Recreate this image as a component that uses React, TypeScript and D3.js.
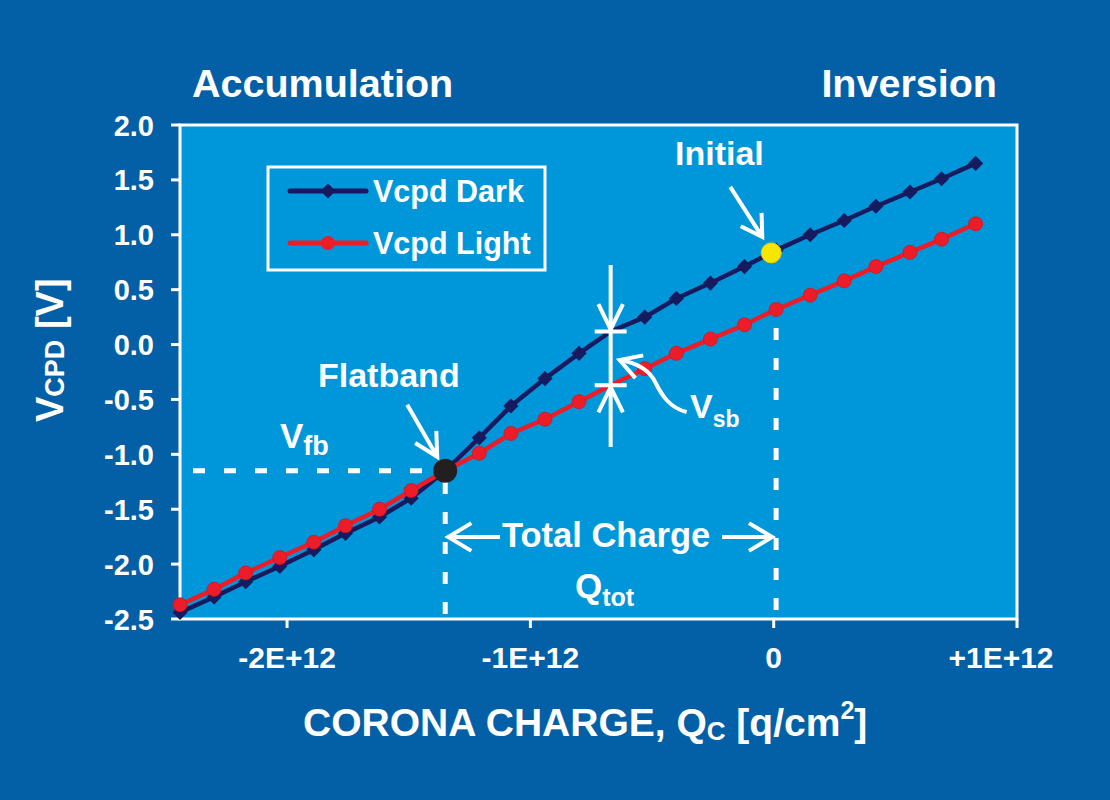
import * as d3 from "d3";

// Corona charge in units of 1E+12 q/cm2
const charge = [
  -2.44, -2.3, -2.17, -2.03, -1.89, -1.76, -1.62, -1.49, -1.35, -1.21, -1.08, -0.94, -0.8,
  -0.67, -0.53, -0.4, -0.26, -0.12, 0.01, 0.15, 0.29, 0.42, 0.56, 0.69, 0.83,
];
const vcpdDark = [
  -2.44, -2.3, -2.16, -2.02, -1.87, -1.72, -1.57, -1.4, -1.15, -0.85, -0.56, -0.31, -0.08,
  0.12, 0.25, 0.42, 0.56, 0.71, 0.86, 1.0, 1.13, 1.26, 1.39, 1.51, 1.65,
];
const vcpdLight = [
  -2.37, -2.23, -2.08, -1.94, -1.8, -1.65, -1.5, -1.33, -1.15, -0.99, -0.81, -0.68, -0.52,
  -0.37, -0.22, -0.08, 0.05, 0.18, 0.32, 0.45, 0.58, 0.71, 0.84, 0.96, 1.1,
];
const yTicks = [2.0, 1.5, 1.0, 0.5, 0.0, -0.5, -1.0, -1.5, -2.0, -2.5];
const xTicks = [-2, -1, 0, 1];
const xTickLabels = ["-2E+12", "-1E+12", "0", "+1E+12"];

const flatbandIndex = 8; // Vfb point
const vsbIndex = 13; // surface barrier marker, markers hidden under annotation
const totalIndex = 18; // Qtot end
const initialPoint = { q: -0.01, v: 0.835 };

const W = 1110;
const H = 800;
const plot = { left: 180, right: 1017, top: 125, bottom: 619 };

const bgOuter = "#0360A6";
const bgPlot = "#0097DA";
const darkColor = "#151B5E";
const lightColor = "#EC1C28";
const font = "'Liberation Sans', Arial, Helvetica, sans-serif";

// arrow head (two arms) at tip, opening back toward "from"
function arrowHead(tip: number[], from: number[], len = 24, ang = 31) {
  const dx = from[0] - tip[0];
  const dy = from[1] - tip[1];
  const L = Math.hypot(dx, dy);
  const ux = dx / L;
  const uy = dy / L;
  const arm = (s: number) => {
    const a = (s * ang * Math.PI) / 180;
    return [
      tip[0] + len * (ux * Math.cos(a) - uy * Math.sin(a)),
      tip[1] + len * (ux * Math.sin(a) + uy * Math.cos(a)),
    ];
  };
  const p1 = arm(1);
  const p2 = arm(-1);
  return `M${p1[0]},${p1[1]}L${tip[0]},${tip[1]}L${p2[0]},${p2[1]}`;
}

export default function App() {
  const x = d3.scaleLinear().domain([-2.44, 1.0]).range([plot.left, plot.right]);
  const y = d3.scaleLinear().domain([-2.5, 2.0]).range([plot.bottom, plot.top]);

  const line = d3
    .line<number>()
    .x((_, i) => x(charge[i]))
    .y((d) => y(d));

  const diamond = d3.symbol(d3.symbolSquare, 115)();

  const fbX = x(charge[flatbandIndex]);
  const fbY = y(vcpdDark[flatbandIndex]);
  const vsbX = x(charge[vsbIndex]);
  const vsbTop = y(vcpdDark[vsbIndex]);
  const vsbBot = y(vcpdLight[vsbIndex]);
  const totX = x(charge[totalIndex]);
  const initX = x(initialPoint.q);
  const initY = y(initialPoint.v);

  const white = "#FFFFFF";
  const textStyle = { fontFamily: font, fontWeight: 700, fill: white } as const;

  // arrows
  const initFrom = [initX - 41, initY - 66];
  const initTip = [initX - 9, initY - 16];
  const fbFrom = [fbX - 38, fbY - 66];
  const fbTip = [fbX - 8, fbY - 14];
  const tcY = 537;
  const tcLeftTip = [fbX + 3, tcY];
  const tcRightTip = [totX - 4, tcY];
  const vsbCurveTip = [vsbX + 9, 360];

  return (
    <svg
      width={W}
      height={H}
      style={{ position: "absolute", left: 0, top: 0, display: "block" }}
    >
      <rect x={0} y={0} width={W} height={H} fill={bgOuter} />
      <rect
        x={plot.left}
        y={plot.top}
        width={plot.right - plot.left}
        height={plot.bottom - plot.top}
        fill={bgPlot}
        stroke={white}
        strokeWidth={3}
      />

      {/* y ticks */}
      {yTicks.map((t) => (
        <g key={"y" + t}>
          <line x1={plot.left - 9} x2={plot.left} y1={y(t)} y2={y(t)} stroke={white} strokeWidth={3} />
          <text x={154} y={y(t) + 10.5} textAnchor="end" fontSize={29} {...textStyle}>
            {t.toFixed(1)}
          </text>
        </g>
      ))}

      {/* x ticks */}
      {xTicks.map((t, i) => (
        <g key={"x" + t}>
          <line x1={x(t)} x2={x(t)} y1={plot.bottom} y2={plot.bottom + 9} stroke={white} strokeWidth={3} />
          <text
            x={Math.min(x(t), 1001)}
            y={668}
            textAnchor="middle"
            fontSize={30}
            {...textStyle}
          >
            {xTickLabels[i]}
          </text>
        </g>
      ))}

      {/* axis titles */}
      <text x={303} y={736} fontSize={39} {...textStyle}>
        CORONA CHARGE, Q
        <tspan fontSize={26} dy={4}>C</tspan>
        <tspan dy={-4}> [q/cm</tspan>
        <tspan fontSize={25} dy={-17}>2</tspan>
        <tspan dy={17}>]</tspan>
      </text>
      <text transform="translate(63,422) rotate(-90)" fontSize={38} {...textStyle}>
        V<tspan fontSize={27} dy={1}>CPD</tspan>
        <tspan dy={-1}> [V]</tspan>
      </text>

      <text x={192} y={97} fontSize={39.5} {...textStyle}>
        Accumulation
      </text>
      <text x={997} y={97} textAnchor="end" fontSize={39.5} {...textStyle}>
        Inversion
      </text>

      {/* dashed guides */}
      <line x1={193} x2={fbX - 22} y1={fbY} y2={fbY} stroke={white} strokeWidth={5} strokeDasharray="12 19" />
      <line x1={fbX} x2={fbX} y1={482} y2={plot.bottom} stroke={white} strokeWidth={5} strokeDasharray="12 18" />
      <line x1={totX} x2={totX} y1={328} y2={plot.bottom} stroke={white} strokeWidth={5} strokeDasharray="12 18" />

      {/* series */}
      <path d={line(vcpdDark) || ""} fill="none" stroke={darkColor} strokeWidth={4.5} />
      {vcpdDark.map((v, i) =>
        i === vsbIndex ? null : (
          <path
            key={"d" + i}
            d={diamond || ""}
            transform={`translate(${x(charge[i])},${y(v)}) rotate(45)`}
            fill={darkColor}
          />
        )
      )}
      <path d={line(vcpdLight) || ""} fill="none" stroke={lightColor} strokeWidth={4.5} />
      {vcpdLight.map((v, i) =>
        i === vsbIndex ? null : (
          <circle
            key={"l" + i}
            cx={x(charge[i])}
            cy={y(v)}
            r={7}
            fill={lightColor}
            stroke="#D41420"
            strokeWidth={0.8}
          />
        )
      )}

      {/* special points */}
      <circle cx={fbX} cy={fbY} r={12} fill="#231F20" />
      <circle cx={initX} cy={initY} r={10} fill="#F7E600" stroke="#E3CF00" strokeWidth={1} />

      {/* Vsb annotation */}
      <g stroke={white} strokeWidth={4} fill="none">
        <line x1={vsbX} x2={vsbX} y1={265} y2={447} />
        <line x1={vsbX - 16} x2={vsbX + 16} y1={vsbTop} y2={vsbTop} />
        <line x1={vsbX - 16} x2={vsbX + 16} y1={vsbBot} y2={vsbBot} />
        <path d={arrowHead([vsbX, vsbTop - 2], [vsbX, vsbTop - 40], 28, 26)} />
        <path d={arrowHead([vsbX, vsbBot + 2], [vsbX, vsbBot + 40], 28, 26)} />
        <path
          d={`M${vsbX + 76},412 C${vsbX + 59},408 ${vsbX + 51},395 ${vsbX + 45},383 C${vsbX + 39},370 ${vsbX + 27},363 ${vsbCurveTip[0]},${vsbCurveTip[1]}`}
        />
        <path d={arrowHead(vsbCurveTip, [vsbCurveTip[0] + 19, vsbCurveTip[1] + 6.5], 24, 30)} />

        {/* Initial arrow */}
        <line x1={initFrom[0]} y1={initFrom[1]} x2={initTip[0]} y2={initTip[1]} />
        <path d={arrowHead(initTip, initFrom, 24, 31)} />

        {/* Flatband arrow */}
        <line x1={fbFrom[0]} y1={fbFrom[1]} x2={fbTip[0]} y2={fbTip[1]} />
        <path d={arrowHead(fbTip, fbFrom, 26, 28)} />

        {/* Total charge arrows */}
        <line x1={tcLeftTip[0]} x2={500} y1={tcY} y2={tcY} />
        <path d={arrowHead(tcLeftTip, [tcLeftTip[0] + 30, tcY], 27, 31)} />
        <line x1={722} x2={tcRightTip[0]} y1={tcY} y2={tcY} />
        <path d={arrowHead(tcRightTip, [tcRightTip[0] - 30, tcY], 27, 31)} />
      </g>

      {/* annotation labels */}
      <text x={675} y={165} fontSize={34} {...textStyle}>
        Initial
      </text>
      <text x={318} y={387} fontSize={34} {...textStyle}>
        Flatband
      </text>
      <text x={280} y={448} fontSize={35} {...textStyle}>
        V<tspan fontSize={27} dy={7}>fb</tspan>
      </text>
      <text x={690} y={418} fontSize={34} {...textStyle}>
        V<tspan fontSize={23} dy={9}>sb</tspan>
      </text>
      <text x={502} y={547} fontSize={34.5} {...textStyle}>
        Total Charge
      </text>
      <text x={575} y={598} fontSize={35} {...textStyle}>
        Q<tspan fontSize={25} dy={8}>tot</tspan>
      </text>

      {/* legend */}
      <rect x={268} y={167} width={277} height={103} fill={bgPlot} stroke={white} strokeWidth={3} />
      <line x1={290} x2={366} y1={191} y2={191} stroke={darkColor} strokeWidth={5} strokeLinecap="round" />
      <path d={diamond || ""} transform="translate(328,191) rotate(45)" fill={darkColor} />
      <text x={373} y={202} fontSize={30.5} {...textStyle}>
        Vcpd Dark
      </text>
      <line x1={290} x2={366} y1={243} y2={243} stroke={lightColor} strokeWidth={5} strokeLinecap="round" />
      <circle cx={328} cy={243} r={7} fill={lightColor} />
      <text x={373} y={254} fontSize={30.5} {...textStyle}>
        Vcpd Light
      </text>
    </svg>
  );
}
